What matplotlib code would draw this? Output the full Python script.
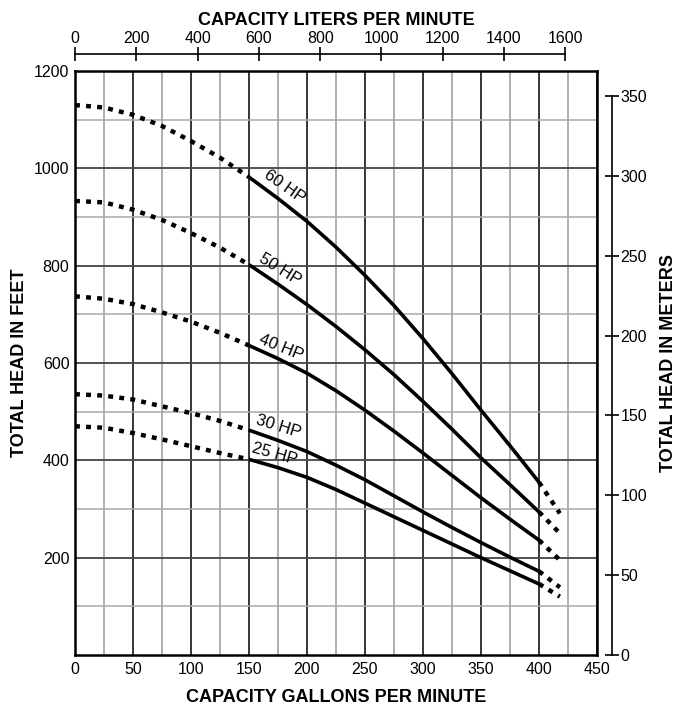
import numpy as np
import matplotlib
matplotlib.use("Agg")
from matplotlib import pyplot as plt

plt.rcParams['font.family'] = ['Liberation Sans', 'DejaVu Sans']

# Capacity (gpm) where the curves were read
gpm = [0, 25, 50, 75, 100, 125, 150, 175, 200, 225, 250, 275, 300, 325, 350, 375, 400, 418]

# Total head in feet for each motor size
hp60 = [1130, 1125, 1110, 1087, 1056, 1022, 982, 938, 891, 838, 780, 718, 650, 578, 503, 430, 355, 291]
hp50 = [933, 930, 915, 894, 867, 837, 802, 762, 720, 675, 627, 576, 521, 464, 405, 350, 294, 250]
hp40 = [737, 732, 721, 704, 685, 662, 636, 609, 579, 543, 503, 460, 415, 369, 323, 279, 236, 195]
hp30 = [536, 533, 525, 511, 497, 481, 462, 441, 418, 390, 360, 327, 294, 262, 231, 201, 172, 139]
hp25 = [470, 467, 456, 443, 429, 415, 402, 385, 365, 340, 312, 284, 256, 228, 200, 173, 146, 120]

curve_names = ['60 HP', '50 HP', '40 HP', '30 HP', '25 HP']
curves = [hp60, hp50, hp40, hp30, hp25]

# label anchor (gpm, ft) and rotation
label_pos = [(181, 962), (177, 792), (178, 632), (175, 470), (172, 412)]
label_rot = [-35, -32, -22, -17, -16]

x_major = list(range(0, 451, 50))
x_minor = list(range(25, 451, 50))
y_major = list(range(200, 1201, 200))
y_minor = list(range(100, 1201, 200))
lpm_ticks = list(range(0, 1601, 200))
m_ticks = list(range(0, 351, 50))

GPM_TO_LPM = 3.78541
FT_TO_M = 0.3048

fig = plt.figure(figsize=(6.84, 7.09), dpi=100)
ax = fig.add_axes([75/684, 1 - 655/709, 522/684, 584/709])
ax.set_xlim(0, 450)
ax.set_ylim(0, 1200)

# grid
ax.set_xticks(x_major)
ax.set_xticks(x_minor, minor=True)
ax.set_yticks(y_major)
ax.set_yticks(y_minor, minor=True)
ax.grid(True, axis='x', which='major', color='black', lw=1.1, zorder=0)
ax.grid(True, axis='x', which='minor', color='#9a9a9a', lw=1.1, zorder=0)
ax.grid(True, axis='y', which='major', color='#444444', lw=1.3, zorder=0)
ax.grid(True, axis='y', which='minor', color='#a8a8a8', lw=1.1, zorder=0)
ax.set_yticklabels([str(v) for v in y_major])
ax.tick_params(which='both', length=0, labelsize=11.5, pad=5)
ax.tick_params(axis='y', pad=4)
for s in ax.spines.values():
    s.set_linewidth(1.8)

# curves: dotted below 150 gpm and above 400 gpm
g = np.array(gpm)
for name, h in zip(curve_names, curves):
    h = np.array(h)
    left = g <= 150
    mid = (g >= 150) & (g <= 400)
    right = g >= 400
    ax.plot(g[left], h[left], color='black', lw=3.2,
            ls=(0, (1.1, 1.4)), dash_capstyle='butt', zorder=3)
    ax.plot(g[mid], h[mid], color='black', lw=2.6, solid_capstyle='butt',
            solid_joinstyle='round', zorder=3)
    ax.plot(g[right], h[right], color='black', lw=3.2,
            ls=(0, (1.1, 1.4)), dash_capstyle='butt', zorder=3)

for name, (px, py), rot in zip(curve_names, label_pos, label_rot):
    ax.text(px, py, name, rotation=rot, rotation_mode='anchor', ha='center', va='center',
            fontsize=12, zorder=4)

ax.set_xlabel('CAPACITY GALLONS PER MINUTE', fontsize=13, fontweight='bold', labelpad=9)
ax.set_ylabel('TOTAL HEAD IN FEET', fontsize=13, fontweight='bold', labelpad=4)

# top axis in liters per minute
top = ax.secondary_xaxis('top', functions=(lambda x: x * GPM_TO_LPM, lambda x: x / GPM_TO_LPM))
top.set_xticks(lpm_ticks)
top.spines['top'].set_position(('outward', 12))
top.spines['top'].set_bounds(0, 1600)
top.spines['top'].set_linewidth(1.2)
top.tick_params(direction='inout', length=10, width=1.2, labelsize=11.5, pad=1)
top.set_xlabel('CAPACITY LITERS PER MINUTE', fontsize=13, fontweight='bold', labelpad=4)

# right axis in meters
right = ax.secondary_yaxis('right', functions=(lambda y: y * FT_TO_M, lambda y: y / FT_TO_M))
right.set_yticks(m_ticks)
right.spines['right'].set_position(('outward', 11))
right.spines['right'].set_bounds(0, 350)
right.spines['right'].set_linewidth(1.2)
right.tick_params(direction='inout', length=10, width=1.2, labelsize=11.5, pad=1)
right.set_ylabel('TOTAL HEAD IN METERS', fontsize=13, fontweight='bold', labelpad=9)

fig.savefig('out.png', dpi=100)
